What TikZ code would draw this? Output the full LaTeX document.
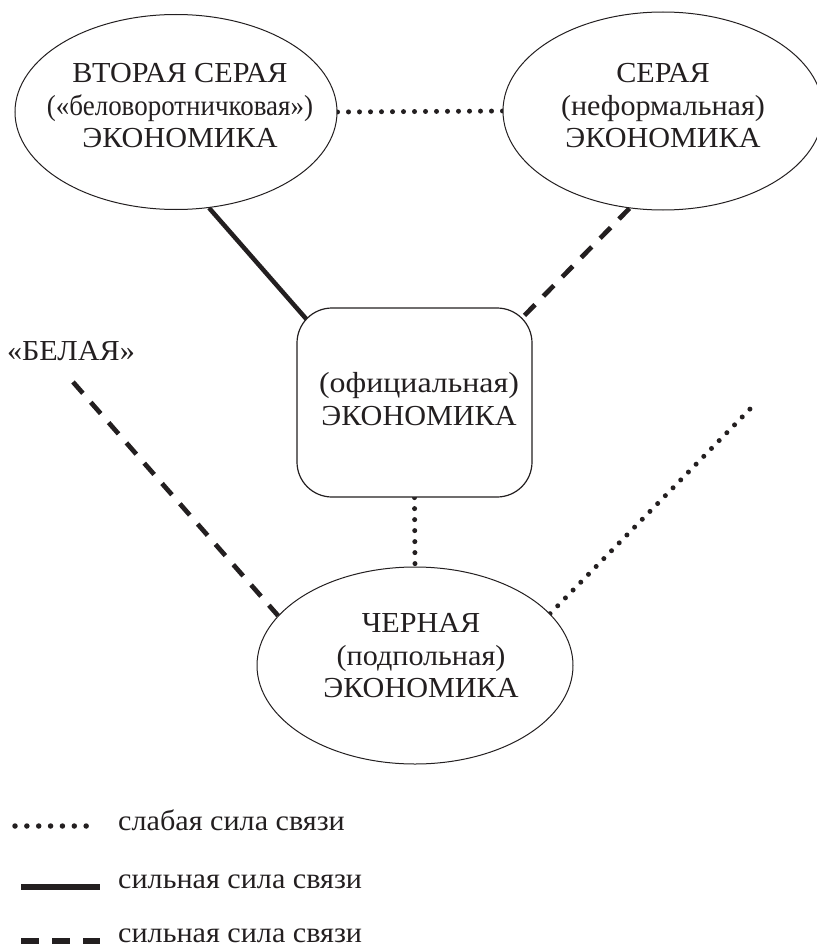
\documentclass[tikz,border=0pt]{standalone}
\usepackage{fontspec}
\setmainfont{Liberation Serif}[FakeStretch=1.04]
\newfontfamily\narrowface{Liberation Serif}[FakeStretch=0.93]
\newfontfamily\wideface{Liberation Serif}[FakeStretch=1.1]
\usetikzlibrary{backgrounds,shapes.geometric}
\definecolor{ink}{RGB}{35,31,32}
\begin{document}
\begin{tikzpicture}[x=1pt,y=-1pt,
  every node/.style={text=ink},
  txt/.style={font=\fontsize{29}{32.5}\selectfont, align=center, inner sep=0pt},
  ell/.style={ellipse, draw=ink, line width=1pt, fill=white, inner sep=0pt},
  rbox/.style={rectangle, rounded corners=35pt, draw=ink, line width=1.2pt, fill=white, inner sep=0pt},
  weak/.style={draw=ink, line width=5pt, line cap=round, dash pattern=on 0pt off 11pt},
  strong/.style={draw=ink, line width=4.5pt},
  strongdash/.style={draw=ink, line width=4.7pt, dash pattern=on 15pt off 12pt},
]
\useasboundingbox (0,0) rectangle (816,947);

% shapes
\node[ell, minimum width=322pt, minimum height=195pt] (gl) at (176,112) {};
\node[ell, minimum width=320pt, minimum height=198pt] (gr) at (663,111) {};
\node[rbox, minimum width=235pt, minimum height=189pt] (rect) at (414.5,402.5) {};
\node[ell, minimum width=316pt, minimum height=197pt] (bl) at (415,665.5) {};

% texts
\node[txt] (glt) at (180,106) {ВТОРАЯ СЕРАЯ\\{\narrowface(«беловоротничковая»)}\\ЭКОНОМИКА};
\node[txt] (grt) at (663,106) {СЕРАЯ\\(неформальная)\\ЭКОНОМИКА};
\node[txt] (rectt) at (419,399) {{\wideface(официальная)}\\ЭКОНОМИКА};
\node[txt] (blt) at (421,656) {ЧЕРНАЯ\\(подпольная)\\ЭКОНОМИКА};
\node[txt] (bela) at (71,351) {«БЕЛАЯ»};

\coordinate (wend) at (73,382);
\coordinate (eend) at (751,408);

\begin{pgfonlayer}{background}
\draw[weak] (gl.east) -- (gr.west);
\draw[strong] (gl.-71) -- ([shift={(12,14)}]rect.north west);
\draw[strongdash] (gr.-109.5) -- ([shift={(-12,12)}]rect.north east);
\draw[strongdash] (wend) -- (bl.160);
\draw[weak] (rect.south) -- (bl.north);
\draw[weak] (bl.21) -- (eend);
\end{pgfonlayer}

% legend
\coordinate (l1a) at (15,826); \coordinate (l1b) at (98,826);
\coordinate (l2a) at (21,887); \coordinate (l2b) at (100,887);
\coordinate (l3a) at (21,941); \coordinate (l3b) at (100,941);
\draw[draw=ink, line width=5.5pt, line cap=round, dash pattern=on 0pt off 11.86pt] (l1a) -- (l1b);
\draw[draw=ink, line width=6pt] (l2a) -- (l2b);
\draw[draw=ink, line width=6pt, dash pattern=on 18pt off 13pt] (l3a) -- (l3b);
\node[txt, anchor=base west] (t1) at (118,830) {слабая сила связи};
\node[txt, anchor=base west] (t2) at (118,888) {сильная сила связи};
\node[txt, anchor=base west] (t3) at (118,942) {сильная сила связи};
\end{tikzpicture}
\end{document}
